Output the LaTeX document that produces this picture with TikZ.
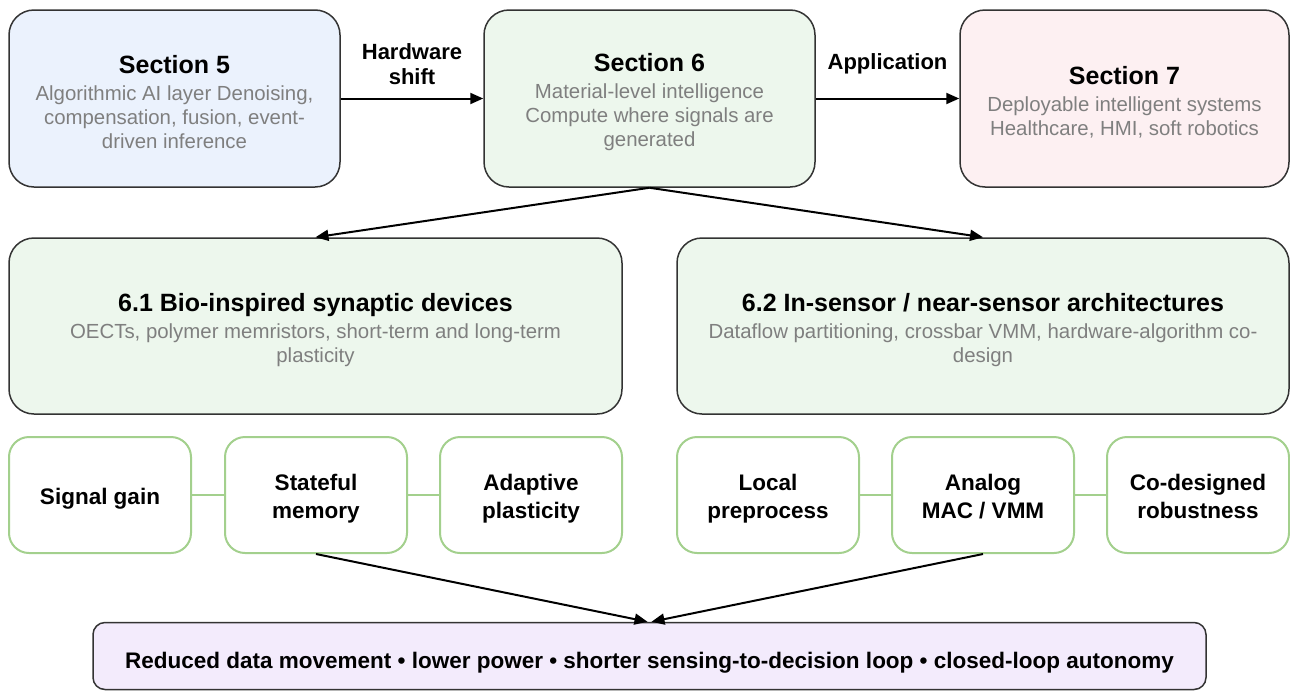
\documentclass[tikz,border=0pt]{standalone}
\usepackage{fontspec}
\setmainfont{Liberation Sans}
\usetikzlibrary{arrows.meta}
\definecolor{bluefill}{HTML}{EBF2FD}
\definecolor{greenfill}{HTML}{EDF7ED}
\definecolor{pinkfill}{HTML}{FDF0F2}
\definecolor{lavfill}{HTML}{F3EBFC}
\definecolor{edgegray}{HTML}{333333}
\definecolor{subgray}{HTML}{7F7F7F}
\definecolor{smallgreen}{HTML}{A3D08D}
\tikzset{
  bigbox/.style={draw=edgegray, line width=1.5pt, rounded corners=25pt, inner sep=0pt, align=center,
    minimum height=177pt, font=\fontsize{20.4}{24}\selectfont},
  smallbox/.style={draw=smallgreen, line width=2pt, rounded corners=20pt, fill=white, inner sep=0pt,
    minimum width=182pt, minimum height=116pt, align=center, font=\fontsize{22.5}{28.5}\selectfont\bfseries},
  link/.style={draw=smallgreen, line width=2pt},
  arr/.style={line width=2pt, -{Triangle[length=13pt,width=11pt]}},
  lbl/.style={inner sep=0pt, align=center, font=\fontsize{22}{25}\selectfont\bfseries},
}
\newcommand{\ttl}[1]{{\fontsize{25}{28}\selectfont\bfseries\rule{0pt}{26pt}#1}}
\newcommand{\sub}[1]{{\color{subgray}#1}}
\newcommand{\sst}{\rule[-4.8pt]{0pt}{28.4pt}}
\begin{document}
\begin{tikzpicture}[x=1pt,y=-1pt]
\useasboundingbox (0,0) rectangle (1290,691);
% top row
\node[bigbox, fill=bluefill, minimum width=331pt] (s5) at (174.5,98.5)
  {\ttl{Section 5}\\[3pt] \sub{Algorithmic AI layer Denoising,}\\ \sub{compensation, fusion, event-}\\ \sub{driven inference}};
\node[bigbox, fill=greenfill, minimum width=331pt] (s6) at (649.5,98.5)
  {\ttl{Section 6}\\[3pt] \sub{Material-level intelligence}\\ \sub{Compute where signals are}\\ \sub{generated}};
\node[bigbox, fill=pinkfill, minimum width=329pt] (s7) at (1124.5,98.5)
  {\ttl{Section 7}\\[3pt] \sub{Deployable intelligent systems}\\ \sub{Healthcare, HMI, soft robotics}};
% middle row
\node[bigbox, fill=greenfill, minimum width=613pt, minimum height=176pt] (s61) at (315.5,326)
  {\ttl{6.1 Bio-inspired synaptic devices}\\[3pt] \sub{OECTs, polymer memristors, short-term and long-term}\\ \sub{plasticity}};
\node[bigbox, fill=greenfill, minimum width=612pt, minimum height=176pt] (s62) at (983,326)
  {\ttl{6.2 In-sensor / near-sensor architectures}\\[3pt] \sub{Dataflow partitioning, crossbar VMM, hardware-algorithm co-}\\ \sub{design}};
% small boxes
\node[smallbox] (gain) at (100,495) {\sst Signal gain};
\node[smallbox] (mem) at (316,495) {\sst Stateful\\\sst memory};
\node[smallbox] (plast) at (531,495) {\sst Adaptive\\\sst plasticity};
\node[smallbox] (pre) at (768,495) {\sst Local\\\sst preprocess};
\node[smallbox] (mac) at (983,495) {\sst Analog\\\sst MAC / VMM};
\node[smallbox] (rob) at (1198,495) {\sst Co-designed\\\sst robustness};
\draw[link] (gain) -- (mem);
\draw[link] (mem) -- (plast);
\draw[link] (pre) -- (mac);
\draw[link] (mac) -- (rob);
% bottom
\node[draw=edgegray, line width=1.5pt, fill=lavfill, rounded corners=12pt, inner sep=0pt,
  minimum width=1113pt, minimum height=67pt, text height=24pt, text depth=0pt,
  font=\fontsize{22.5}{26}\selectfont\bfseries] (out) at (649.5,656)
  {Reduced data movement • lower power • shorter sensing-to-decision loop • closed-loop autonomy};
% arrows
\draw[arr] (s5) -- (s6) node[lbl, midway, above=13pt] (hw) {Hardware\\shift};
\draw[arr] (s6) -- (s7) node[lbl, midway, above=23pt] (app) {Application};
\draw[arr] (s6.south) -- (s61.north);
\draw[arr] (s6.south) -- (s62.north);
\draw[arr] (mem.south) -- ([xshift=-2pt]out.north);
\draw[arr] (mac.south) -- ([xshift=2pt]out.north);
\end{tikzpicture}
\end{document}
